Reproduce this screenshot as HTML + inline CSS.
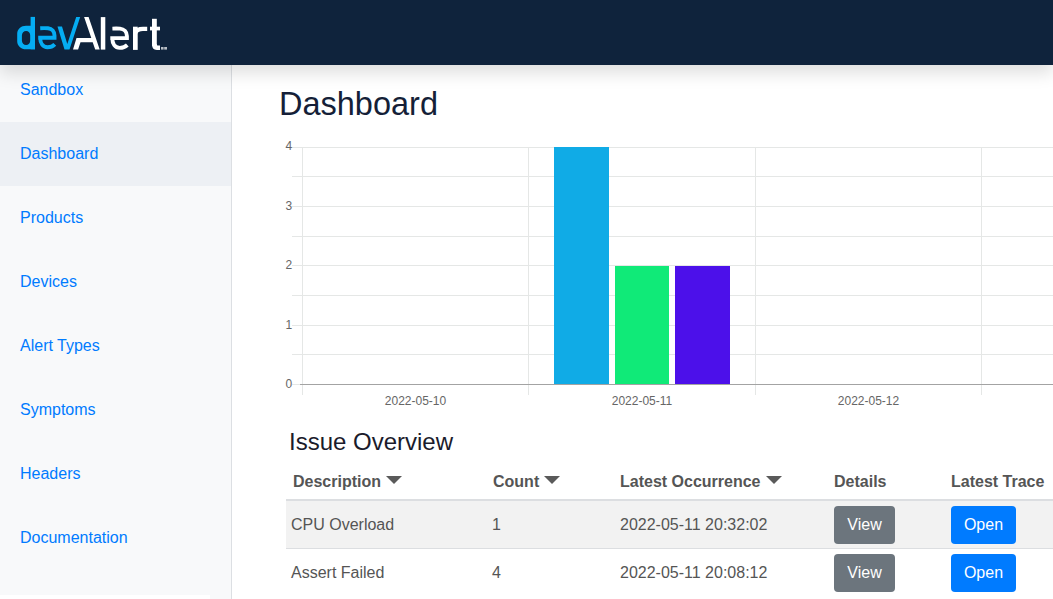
<!DOCTYPE html>
<html><head><meta charset="utf-8">
<style>
*{box-sizing:border-box;margin:0;padding:0}
html,body{width:1053px;height:599px;overflow:hidden;background:#fff;font-family:"Liberation Sans",sans-serif}
.hdr{position:absolute;left:0;top:0;width:1053px;height:65px;background:#0f233c;z-index:5;box-shadow:0 8px 16px rgba(0,0,0,0.13)}
.hdr svg{position:absolute;left:0;top:0}
.side{position:absolute;left:0;top:58px;width:232px;height:541px;background:#f8f9fa;border-right:1px solid #dcdfe3}
.nav a{display:block;height:64px;line-height:64px;padding-left:20px;font-size:16px;color:#007bff;text-decoration:none}
.nav a.act{background:#edf0f4}
.t{position:absolute;white-space:nowrap}
h1{position:absolute;left:279px;top:86px;font-size:32.5px;line-height:36px;font-weight:normal;color:#151f38}
h2{position:absolute;left:289px;top:428px;font-size:24px;line-height:28px;font-weight:normal;color:#1b1b2b}
svg.chart{position:absolute;left:0;top:0}
.th{position:absolute;top:472px;font-size:16px;line-height:20px;font-weight:bold;color:#555}
.td{position:absolute;font-size:16px;line-height:20px;color:#555}
.caret{display:inline-block;width:0;height:0;border-left:8px solid transparent;border-right:8px solid transparent;border-top:8px solid #5a5a5a;margin-left:5px;vertical-align:3px}
.row1{position:absolute;left:286px;top:501px;width:767px;height:47px;background:#f2f2f2}
.hline{position:absolute;left:286px;width:767px}
.btn{position:absolute;height:38px;line-height:38px;border-radius:4px;color:#fff;font-size:16px;text-align:center}
.gray{background:#6c757d;width:61px;left:834px}
.blue{background:#007bff;width:65px;left:951px}
</style></head><body>
<div class="hdr">
<svg width="180" height="65" viewBox="0 0 180 65">
<g fill="#05adf3">
<rect x="30.6" y="16.9" width="4.4" height="32.4"/>
<path fill-rule="evenodd" d="M35 25.7 H26 C21.14 25.7 17.2 29.19 17.2 33.5 V41.4 C17.2 45.71 21.14 49.2 26 49.2 H35 Z M26.1 31.1 C28.4 31.1 30.3 33.1 30.3 35.6 V40.6 C30.3 43.1 28.4 45.1 26.1 45.1 C23.8 45.1 21.9 43.1 21.9 40.6 V35.6 C21.9 33.1 23.8 31.1 26.1 31.1 Z"/>
<path d="M57.5 26.4 L62 26.4 L67.3 44 L76.2 16.9 L80.2 16.9 L69.5 49.5 L64.5 49.5 Z"/>
</g>
<path fill="none" stroke="#05adf3" stroke-width="3.9" d="M40.2 28.2 C43 28.1 45.5 28.1 48 28.2 C52 28.6 54.5 31.5 54.5 35.5 L54.5 37.8 L38.2 37.8 M40.2 37.8 C40.2 43.5 43 47.3 47.5 47.3 C50.5 47.3 53 46.3 54.8 44.4"/>
<g fill="#ffffff">
<path d="M84.1 16.9 L88.6 16.9 L99.7 49.5 L95.2 49.5 L92.7 42.2 L80.5 42.2 L78.1 49.5 L73 49.5 L76.5 38.1 L91.3 38.1 Z"/>
<rect x="100.8" y="17.1" width="4.5" height="32.5"/>
<rect x="133" y="26.7" width="4.7" height="23.2"/>
<rect x="152" y="18.8" width="4.8" height="27"/>
<rect x="150" y="26.7" width="10" height="3.7"/>
<path d="M152 44 C152 48 153.5 49.9 157 49.9 H160 V45.6 H158.5 C157 45.6 156.8 45 156.8 44 Z"/>
<rect x="161" y="47" width="2.6" height="2.6" opacity="0.7"/>
<rect x="164.2" y="47" width="2.8" height="2.6" opacity="0.7"/>
</g>
<path fill="none" stroke="#ffffff" stroke-width="3.9" d="M112.4 28.6 C115 28.5 117.5 28.5 120 28.6 C124 29 126.9 31.9 126.9 35.9 L126.9 38.1 L110.3 38.1 M112.3 38.1 C112.3 43.9 115 47.9 119.8 47.9 C122.8 47.9 125.3 46.9 127.3 45"/>
<path fill="none" stroke="#ffffff" stroke-width="4.3" d="M135.3 33 C136.5 29.5 139.5 28.8 143 28.8 L147.2 28.8"/>
</svg>
</div>
<div class="side"><div class="nav">
<a>Sandbox</a><a class="act">Dashboard</a><a>Products</a><a>Devices</a><a>Alert Types</a><a>Symptoms</a><a>Headers</a><a>Documentation</a>
</div></div>
<div style="position:absolute;left:0;top:595px;width:210px;height:4px;background:#fff;z-index:2"></div>

<h1>Dashboard</h1>

<svg class="chart" width="1053" height="420" viewBox="0 0 1053 420" shape-rendering="crispEdges">
<g fill="#e5e7e6">
<rect x="292" y="147" width="761" height="1"/>
<rect x="292" y="176" width="761" height="1"/>
<rect x="292" y="206" width="761" height="1"/>
<rect x="292" y="236" width="761" height="1"/>
<rect x="292" y="265" width="761" height="1"/>
<rect x="292" y="295" width="761" height="1"/>
<rect x="292" y="325" width="761" height="1"/>
<rect x="292" y="354" width="761" height="1"/>
<rect x="292" y="384" width="8" height="1"/>
<rect x="302" y="147" width="1" height="248"/>
<rect x="528" y="147" width="1" height="248"/>
<rect x="755" y="147" width="1" height="248"/>
<rect x="981" y="147" width="1" height="248"/>
</g>
<rect x="300" y="384" width="753" height="1" fill="#a3a3a3"/>
<rect x="554" y="147" width="55" height="237" fill="#10abe6"/>
<rect x="615" y="266" width="54" height="118" fill="#10ea78"/>
<rect x="675" y="266" width="55" height="118" fill="#4c10ea"/>
<g font-family="Liberation Sans" font-size="12" fill="#666" text-anchor="end" shape-rendering="auto">
<text x="292.3" y="150">4</text>
<text x="292.3" y="210">3</text>
<text x="292.3" y="269">2</text>
<text x="292.3" y="329">1</text>
<text x="292.3" y="388">0</text>
</g>
<g font-family="Liberation Sans" font-size="12" fill="#666" text-anchor="middle">
<text x="415.5" y="405">2022-05-10</text>
<text x="642" y="405">2022-05-11</text>
<text x="868.5" y="405">2022-05-12</text>
</g>
</svg>

<h2>Issue Overview</h2>

<div class="th" style="left:293px">Description<span class="caret"></span></div>
<div class="th" style="left:493px">Count<span class="caret"></span></div>
<div class="th" style="left:620px">Latest Occurrence<span class="caret"></span></div>
<div class="th" style="left:834px">Details</div>
<div class="th" style="left:951px">Latest Trace</div>

<div class="hline" style="top:499px;height:2px;background:#dcdee1"></div>
<div class="row1"></div>
<div class="hline" style="top:548px;height:1px;background:#dcdee1"></div>

<div class="td" style="left:291px;top:515px">CPU Overload</div>
<div class="td" style="left:492px;top:515px">1</div>
<div class="td" style="left:620px;top:515px">2022-05-11 20:32:02</div>
<div class="btn gray" style="top:506px">View</div>
<div class="btn blue" style="top:506px">Open</div>

<div class="td" style="left:291px;top:563px">Assert Failed</div>
<div class="td" style="left:492px;top:563px">4</div>
<div class="td" style="left:620px;top:563px">2022-05-11 20:08:12</div>
<div class="btn gray" style="top:554px">View</div>
<div class="btn blue" style="top:554px">Open</div>
</body></html>
